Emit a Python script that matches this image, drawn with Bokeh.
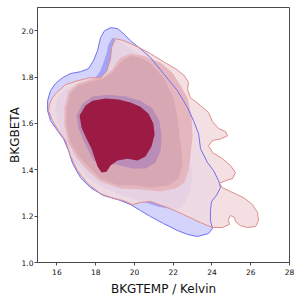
from bokeh.plotting import figure
from bokeh.models import FixedTicker, PrintfTickFormatter
from bokeh.embed import file_html
from bokeh.resources import INLINE

# ---- contour data (BKGTEMP [K], BKGBETA) ----
blue_outer_x = [18.77, 19.13, 19.44, 19.80, 20.31, 20.83, 21.50, 22.22, 22.74, 23.05, 23.31, 23.41, 23.77, 24.08,
                24.34, 24.44, 24.23, 23.98, 23.92, 23.92, 24.03, 23.82, 23.25, 22.74, 22.22, 21.50, 20.83, 20.31,
                19.80, 19.13, 18.40, 17.73, 17.22, 16.81, 16.60, 16.34, 16.03, 15.67, 15.52, 15.52, 15.67, 15.93,
                16.29, 16.70, 17.22, 17.63, 17.89, 18.10, 18.25, 18.46]
blue_outer_y = [2.013, 2.009, 1.987, 1.957, 1.922, 1.884, 1.815, 1.741, 1.668, 1.612, 1.556, 1.491, 1.431, 1.397,
                1.353, 1.323, 1.289, 1.263, 1.224, 1.181, 1.147, 1.125, 1.112, 1.121, 1.138, 1.168, 1.198, 1.224,
                1.250, 1.272, 1.289, 1.323, 1.366, 1.427, 1.483, 1.534, 1.569, 1.612, 1.655, 1.698, 1.741, 1.772,
                1.797, 1.815, 1.823, 1.836, 1.871, 1.914, 1.970, 2.000]

blue_mid_x = [18.87, 19.18, 19.69, 20.31, 20.93, 21.50, 21.96, 22.27, 22.48, 22.69, 22.89, 23.00, 22.89,
              22.63, 22.27, 21.76, 21.24, 20.73, 20.06, 19.28, 18.25, 17.48, 16.96, 16.60, 16.29, 16.03, 15.93,
              16.03, 16.34, 16.81, 17.48, 18.04, 18.25, 18.40, 18.56, 18.66]
blue_mid_y = [1.970, 1.957, 1.927, 1.897, 1.862, 1.819, 1.763, 1.698, 1.612, 1.526, 1.440, 1.375, 1.310,
              1.259, 1.228, 1.233, 1.241, 1.254, 1.272, 1.293, 1.328, 1.375, 1.431, 1.491, 1.547, 1.603, 1.664,
              1.711, 1.741, 1.763, 1.776, 1.802, 1.828, 1.862, 1.901, 1.940]

blue_inner_x = [17.32, 17.84, 18.66, 19.54, 20.31, 20.93, 21.29, 21.40, 21.35, 21.09, 20.57, 19.90, 19.28, 18.77,
                18.25, 17.89, 17.63, 17.37, 17.12, 17.01]
blue_inner_y = [1.685, 1.716, 1.724, 1.716, 1.698, 1.664, 1.612, 1.547, 1.483, 1.431, 1.405, 1.405, 1.418, 1.427,
                1.422, 1.440, 1.483, 1.526, 1.578, 1.634]

red_outer_x = [19.02, 19.44, 20.16, 20.83, 21.50, 22.12, 22.58, 22.79, 22.74, 22.89, 23.41, 23.82, 24.03, 24.34,
               24.70, 24.80, 24.49, 24.03, 23.82, 24.03, 24.54, 24.96, 25.21, 25.06, 24.70, 24.39, 24.54, 24.96,
               25.63, 26.09, 26.35, 26.40, 26.25, 25.83, 25.47, 25.21, 25.16, 24.96, 24.85, 24.90, 24.54, 24.03,
               23.41, 22.53, 21.71, 20.83, 20.31, 19.90, 19.44, 18.92, 18.25, 17.58, 17.06, 16.70, 16.44, 16.08,
               15.77, 15.57, 15.62, 15.77, 16.03, 16.44, 17.06, 17.73, 18.25, 18.56, 18.77, 18.82]
red_outer_y = [1.966, 1.957, 1.931, 1.901, 1.866, 1.836, 1.806, 1.776, 1.746, 1.711, 1.677, 1.647, 1.608, 1.578,
               1.565, 1.547, 1.534, 1.526, 1.504, 1.474, 1.448, 1.418, 1.388, 1.362, 1.353, 1.341, 1.323, 1.306,
               1.280, 1.250, 1.216, 1.181, 1.155, 1.151, 1.159, 1.177, 1.194, 1.203, 1.185, 1.164, 1.151, 1.151,
               1.172, 1.207, 1.237, 1.263, 1.259, 1.250, 1.267, 1.276, 1.297, 1.341, 1.397, 1.461, 1.526, 1.569,
               1.612, 1.655, 1.685, 1.711, 1.737, 1.767, 1.784, 1.797, 1.797, 1.823, 1.879, 1.927]

red_mid_x = [19.28, 19.80, 20.47, 21.35, 21.96, 22.38, 22.74, 22.94, 23.00, 22.89, 22.79, 22.58, 22.12, 21.35,
             20.31, 19.28, 18.25, 17.53, 17.01, 16.60, 16.39, 16.39, 16.60, 17.06, 17.73, 18.40, 18.82, 19.08]
red_mid_y = [1.884, 1.901, 1.892, 1.862, 1.819, 1.763, 1.711, 1.634, 1.547, 1.461, 1.397, 1.345, 1.319, 1.306,
             1.315, 1.319, 1.349, 1.401, 1.453, 1.513, 1.591, 1.668, 1.737, 1.772, 1.789, 1.802, 1.828, 1.862]

overlap_x = [19.38, 19.80, 20.31, 20.83, 21.50, 22.02, 22.22, 22.33, 22.43, 22.48, 22.27, 21.76, 20.83, 20.06,
             19.18, 18.25, 17.63, 17.12, 16.70, 16.50, 16.50, 16.70, 17.12, 17.73, 18.40, 18.87, 19.13]
overlap_y = [1.871, 1.892, 1.884, 1.858, 1.797, 1.711, 1.625, 1.547, 1.483, 1.418, 1.362, 1.332, 1.323, 1.332,
             1.332, 1.362, 1.414, 1.461, 1.517, 1.591, 1.664, 1.728, 1.763, 1.780, 1.793, 1.819, 1.849]

red_inner_x = [17.48, 17.84, 18.51, 19.18, 19.80, 20.31, 20.73, 20.98, 21.04, 20.88, 20.57, 20.16, 19.64, 19.13,
               18.77, 18.56, 18.30, 18.10, 17.94, 17.79, 17.53, 17.27, 17.17]
red_inner_y = [1.677, 1.698, 1.707, 1.703, 1.690, 1.672, 1.642, 1.599, 1.552, 1.500, 1.457, 1.440, 1.448, 1.440,
               1.418, 1.392, 1.388, 1.414, 1.453, 1.491, 1.534, 1.582, 1.634]

x_ticks = [16, 18, 20, 22, 24, 26, 28]
y_ticks = [1.0, 1.2, 1.4, 1.6, 1.8, 2.0]

FONT = "DejaVu Sans"
SPINE = "#4a4a4a"

p = figure(width=299, height=299, x_range=(15, 28), y_range=(1.0, 2.1),
           output_backend="svg", toolbar_location=None,
           min_border_left=37, min_border_right=10, min_border_top=7, min_border_bottom=37,
           x_axis_label="BKGTEMP / Kelvin", y_axis_label="BKGBETA")

p.patch(blue_outer_x, blue_outer_y, fill_color="#d3d3fc", line_alpha=0)
p.patch(blue_mid_x, blue_mid_y, fill_color="#a3a3f5", line_alpha=0)
p.patch(red_outer_x, red_outer_y, fill_color="#f2dbde", fill_alpha=0.85, line_alpha=0)
p.patch(red_mid_x, red_mid_y, fill_color="#e5b6bd", line_alpha=0)
p.patch(overlap_x, overlap_y, fill_color="#d7a7b3", line_alpha=0)
p.patch(blue_inner_x, blue_inner_y, fill_color="#b98db6", line_alpha=0)
p.patch(red_inner_x, red_inner_y, fill_color="#9b1b45", line_alpha=0)
p.line(blue_outer_x + blue_outer_x[:1], blue_outer_y + blue_outer_y[:1], line_color="#7070f0", line_width=1)
p.line(red_outer_x + red_outer_x[:1], red_outer_y + red_outer_y[:1], line_color="#e08c8c", line_width=1)

p.xgrid.visible = False
p.ygrid.visible = False
p.outline_line_color = SPINE
p.outline_line_width = 1
p.outline_line_alpha = 1

p.xaxis.ticker = FixedTicker(ticks=x_ticks)
p.yaxis.ticker = FixedTicker(ticks=y_ticks)
p.yaxis.formatter = PrintfTickFormatter(format="%.1f")
for ax in (p.xaxis[0], p.yaxis[0]):
    ax.axis_line_color = SPINE
    ax.major_tick_line_color = SPINE
    ax.minor_tick_line_color = None
    ax.major_tick_in = 0
    ax.major_tick_out = 3
    ax.major_label_text_font = FONT
    ax.major_label_text_font_size = "7.5px"
    ax.major_label_text_color = "#111111"
    ax.axis_label_text_font = FONT
    ax.axis_label_text_font_size = "12px"
    ax.axis_label_text_font_style = "normal"
    ax.axis_label_text_color = "#111111"
p.xaxis.major_label_standoff = 3
p.xaxis.axis_label_standoff = 4
p.yaxis.major_label_standoff = 1
p.yaxis.axis_label_standoff = -3

open("out.html", "w").write(file_html(p, INLINE))
